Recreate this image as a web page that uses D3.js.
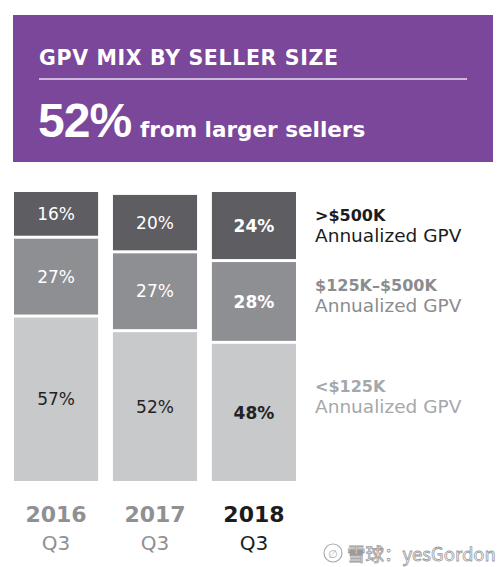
<!DOCTYPE html>
<html><head><meta charset="utf-8">
<script src="https://cdn.jsdelivr.net/npm/d3@7/dist/d3.min.js"></script>
<style>html,body{margin:0;padding:0;background:#fff;}svg{display:block;}</style>
</head><body>
<svg id="c" width="500" height="567"></svg>
<script>
// ---- data ----
const years = ["2016", "2017", "2018"];
const quarters = ["Q3", "Q3", "Q3"];
const segments = ["<$125K", "$125K–$500K", ">$500K"]; // bottom -> top
const small = [57, 52, 48];
const mid = [27, 27, 28];
const large = [16, 20, 24];
const legendTitles = [">$500K", "$125K–$500K", "<$125K"];
const legendSub = "Annualized GPV";
const title = "GPV MIX BY SELLER SIZE";
const headline = "52%";
const headlineRest = "from larger sellers";

const FONT = "'DejaVu Sans', sans-serif";
const svg = d3.select("#c");

// header
svg.append("rect").attr("x", 13).attr("y", 15).attr("width", 480).attr("height", 147).attr("fill", "#7b479a");
svg.append("text").attr("x", 39).attr("y", 65).text(title)
  .attr("font-family", FONT).attr("font-size", 20.5).attr("font-weight", 600)
  .attr("letter-spacing", 0.65).attr("fill", "#fff");
svg.append("line").attr("x1", 39).attr("x2", 467).attr("y1", 79).attr("y2", 79)
  .attr("stroke", "#e9dff0").attr("stroke-width", 1.5);
svg.append("text").attr("x", 38).attr("y", 137).text(headline)
  .attr("font-family", "'Liberation Sans', Arial, sans-serif").attr("font-size", 48)
  .attr("font-weight", 700).attr("letter-spacing", -1).attr("fill", "#fff");
svg.append("text").attr("x", 140).attr("y", 137).text(headlineRest)
  .attr("font-family", FONT).attr("font-size", 21.5)
  .attr("font-weight", 700).attr("fill", "#fff");

// scales
const x = d3.scaleBand().domain(years).range([14, 296]).paddingInner(0.15).paddingOuter(0);
const y = d3.scaleLinear().domain([0, 100]).range([482.5, 190.5]);
const colors = ["#c8c9cb", "#8e8f93", "#5e5d61"];
const labelColors = ["#232323", "#ffffff", "#ffffff"];
const series = [small, mid, large];
const gap = 3;

years.forEach((yr, i) => {
  let cum = 0;
  const bold = i === years.length - 1;
  series.forEach((s, k) => {
    const v = s[i];
    const y0 = y(cum), y1 = y(cum + v);
    svg.append("rect").attr("x", x(yr)).attr("width", x.bandwidth())
      .attr("y", y1 + gap / 2).attr("height", y0 - y1 - gap)
      .attr("fill", colors[k]);
    svg.append("text").attr("x", x(yr) + x.bandwidth() / 2).attr("y", (y0 + y1) / 2)
      .attr("dy", "0.36em").attr("text-anchor", "middle")
      .attr("font-family", FONT).attr("font-size", 17)
      .attr("font-weight", bold ? 700 : 400)
      .attr("fill", labelColors[k]).text(v + "%");
    cum += v;
  });
  const c = bold ? "#1c1c1c" : "#8f9093";
  svg.append("text").attr("x", x(yr) + x.bandwidth() / 2).attr("y", 522)
    .attr("text-anchor", "middle").attr("font-family", FONT).attr("font-size", 22)
    .attr("font-weight", 700).attr("fill", c).text(yr);
  svg.append("text").attr("x", x(yr) + x.bandwidth() / 2).attr("y", 550)
    .attr("text-anchor", "middle").attr("font-family", FONT).attr("font-size", 20)
    .attr("fill", c).text(quarters[i]);
});

// legend
const legY = [221, 291, 392];
const legC = ["#1c1c1c", "#8b8c8f", "#a6a7aa"];
legendTitles.forEach((t, i) => {
  svg.append("text").attr("x", 315).attr("y", legY[i]).text(t)
    .attr("font-family", FONT).attr("font-size", 16).attr("font-weight", 700).attr("fill", legC[i]);
  svg.append("text").attr("x", 315).attr("y", legY[i] + 21).text(legendSub)
    .attr("font-family", FONT).attr("font-size", 18.5).attr("fill", legC[i]);
});

// watermark
const wm = svg.append("g");
wm.append("circle").attr("cx", 333).attr("cy", 553).attr("r", 9).attr("fill", "none").attr("stroke", "#aaa").attr("stroke-width", 1.2);
wm.append("text").attr("x", 328).attr("y", 558).text("∅").attr("font-family", FONT).attr("font-size", 11).attr("fill", "#aaa");
wm.append("text").attr("x", 347).attr("y", 561).text("雪球：yesGordon")
  .attr("font-family", "'Noto Sans CJK SC', sans-serif").attr("font-size", 18.5)
  .attr("fill", "#fff").attr("stroke", "#9a9a9a").attr("stroke-width", 0.8);
</script>
</body></html>
